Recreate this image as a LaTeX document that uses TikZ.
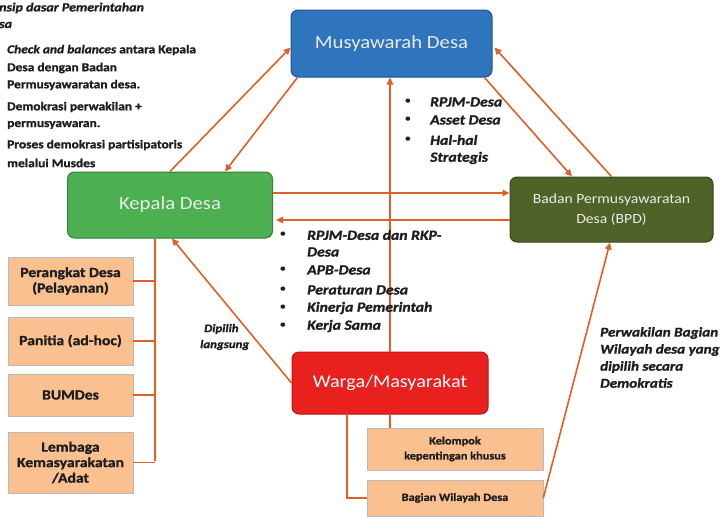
\documentclass[tikz,border=0pt]{standalone}
\usepackage{fontspec}
\setmainfont{Carlito}[FakeStretch=1.12, BoldFeatures={FakeBold=1.3}, BoldItalicFeatures={FakeBold=1.3}]
\usetikzlibrary{arrows.meta}
\definecolor{cblue}{RGB}{46,117,190}
\definecolor{cblueD}{RGB}{30,85,150}
\definecolor{cgreen}{RGB}{76,175,80}
\definecolor{cgreenD}{RGB}{50,130,60}
\definecolor{colive}{RGB}{79,98,40}
\definecolor{coliveD}{RGB}{55,70,28}
\definecolor{cred}{RGB}{232,32,30}
\definecolor{credD}{RGB}{190,20,20}
\definecolor{cpeach}{RGB}{250,192,144}
\definecolor{corange}{RGB}{222,95,40}
\definecolor{ctext}{RGB}{235,235,235}
\definecolor{cdark}{RGB}{30,30,30}
\begin{document}
\begin{tikzpicture}[x=1pt,y=-1pt,
  mainbox/.style={rounded corners=7pt, line width=1pt, align=center, inner sep=0pt, text=ctext},
  peach/.style={fill=cpeach, draw=gray!55, line width=0.6pt, align=center, inner sep=0pt, text=cdark,
     minimum width=125pt, font=\bfseries\fontsize{14}{15.5}\selectfont},
  peachsm/.style={peach, font=\bfseries\fontsize{11}{15}\selectfont},
  arr/.style={draw=corange, line width=1.6pt, -{Triangle[length=7pt,width=6.5pt]}},
  conn/.style={draw=corange, line width=1.6pt},
  txt/.style={anchor=west, inner sep=0pt, text=cdark, font=\bfseries\fontsize{12}{14}\selectfont},
  itx/.style={anchor=west, inner sep=0pt, text=cdark, font=\bfseries\itshape\fontsize{14}{14}\selectfont},
  itxs/.style={itx, font=\bfseries\itshape\fontsize{13.5}{14}\selectfont},
  itxd/.style={itx, font=\bfseries\itshape\fontsize{11.5}{14}\selectfont},
  bul/.style={anchor=center, inner sep=0pt, text=cdark, font=\fontsize{12}{14}\selectfont}
]
\useasboundingbox (0,0) rectangle (726,517);
\fill[white] (0,0) rectangle (726,517);

% main boxes
\node[mainbox, fill=cblue, draw=cblueD, minimum width=201pt, minimum height=67pt,
  font=\fontsize{18.5}{20}\selectfont] (musy) at (391.5,43.5) {Musyawarah Desa};
\node[mainbox, fill=cgreen, draw=cgreenD, minimum width=205pt, minimum height=66pt,
  font=\fontsize{18.5}{20}\selectfont] (kep) at (170,205) {Kepala Desa};
\node[mainbox, fill=colive, draw=coliveD, minimum width=203pt, minimum height=65pt,
  font=\fontsize{14}{20}\selectfont] (bpd) at (611.5,209.5) {Badan Permusyawaratan\\Desa (BPD)};
\node[mainbox, fill=cred, draw=credD, minimum width=196pt, minimum height=62pt, text=white,
  font=\fontsize{18}{20}\selectfont] (warga) at (390,383) {Warga/Masyarakat};

% left boxes
\node[peach, minimum height=48pt] (perangkat) at (70.5,281) {Perangkat Desa\\(Pelayanan)};
\node[peach, minimum height=48pt] (panitia) at (70.5,341) {Panitia (ad-hoc)};
\node[peach, minimum height=42pt] (bumdes) at (70.5,395) {BUMDes};
\node[peach, minimum height=61pt] (lembaga) at (70.5,462.5) {Lembaga\\Kemasyarakatan\\/Adat};

% bottom boxes
\node[peachsm, minimum width=176pt, minimum height=42pt] (kelompok) at (455,449) {Kelompok\\kepentingan khusus};
\node[peachsm, minimum width=176pt, minimum height=36pt] (bagian) at (455,498) {Bagian Wilayah Desa};

% tree on the left
\coordinate (vbot) at (155,461);
\draw[conn] (kep.south -| vbot) -- (vbot);
\draw[conn] (perangkat.east) -- (perangkat.east -| vbot);
\draw[conn] (panitia.east) -- (panitia.east -| vbot);
\draw[conn] (bumdes.east) -- (bumdes.east -| vbot);
\draw[conn] (lembaga.east) -- (lembaga.east -| vbot);

% warga to bottom boxes
\draw[conn] (warga.south) -- (warga.south |- kelompok.north);
\draw[conn] ([xshift=-43pt]warga.south) |- (bagian.west);

% arrows
\draw[arr] (kep.north) -- ([yshift=-4pt]musy.west);
\draw[arr] ([xshift=7pt]musy.south west) -- ([xshift=55pt]kep.north);
\draw[arr] (bpd.north) -- ([yshift=-4pt,xshift=2pt]musy.east);
\draw[arr] ([xshift=-8pt]musy.south east) -- ([xshift=-39.5pt]bpd.north);
\draw[arr] ([yshift=12pt]kep.east) -- ([yshift=12pt]kep.east -| bpd.west);
\draw[arr] ([yshift=-15pt]kep.east -| bpd.west) -- ([yshift=-15pt,xshift=3pt]kep.east);
\draw[arr] (warga.north) -- (warga.north |- musy.south);
\draw[arr] (warga.west) -- ([xshift=2pt]kep.south);
\draw[arr] (bagian.east) -- ([xshift=-1.5pt]bpd.south);

% top-left text
\node[itx, font=\bfseries\itshape\fontsize{12.5}{14}\selectfont] (t0) at (-1,8) {nsip dasar Pemerintahan};
\node[itx, font=\bfseries\itshape\fontsize{12.5}{14}\selectfont] (t0b) at (-1,25) {sa};
\node[txt] (t1) at (7,50) {{\itshape Check and balances} antara Kepala};
\node[txt] (t2) at (7,68) {Desa dengan Badan};
\node[txt] (t3) at (7,85) {Permusyawaratan desa.};
\node[txt] (t4) at (7,107) {Demokrasi perwakilan +};
\node[txt] (t5) at (7,125) {permusyawaran.};
\node[txt] (t6) at (7,145) {Proses demokrasi partisipatoris};
\node[txt] (t7) at (7,163) {melalui Musdes};

% top-middle list
\node[bul] (b1) at (408,102) {•};
\node[bul] (b2) at (408,120) {•};
\node[bul] (b3) at (408,140) {•};
\node[itx] (l1) at (430,102) {RPJM-Desa};
\node[itx] (l2) at (430,120) {Asset Desa};
\node[itx] (l3) at (430,140) {Hal-hal};
\node[itx] (l4) at (430,158) {Strategis};

% middle list
\node[bul] (m1b) at (283,235) {•};
\node[bul] (m2b) at (283,270) {•};
\node[bul] (m3b) at (283,290) {•};
\node[bul] (m4b) at (283,308) {•};
\node[bul] (m5b) at (283,326) {•};
\node[itx] (m1) at (307,235) {RPJM-Desa dan RKP-};
\node[itx] (m1c) at (307,252) {Desa};
\node[itx] (m2) at (307,270) {APB-Desa};
\node[itx] (m3) at (307,290) {Peraturan Desa};
\node[itx] (m4) at (307,308) {Kinerja Pemerintah};
\node[itx] (m5) at (307,326) {Kerja Sama};

% dipilih langsung
\node[itxd] (d1) at (204,329) {Dipilih};
\node[itxd] (d2) at (200,345) {langsung};

% right text
\node[itxs] (r1) at (600,333) {Perwakilan Bagian};
\node[itxs] (r2) at (600,350) {Wilayah desa yang};
\node[itxs] (r3) at (600,367) {dipilih secara};
\node[itxs] (r4) at (600,383) {Demokratis};
\end{tikzpicture}
\end{document}
